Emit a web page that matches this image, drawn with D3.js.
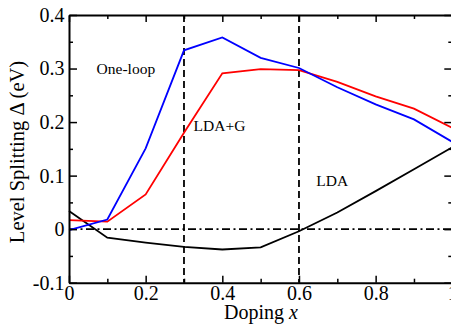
<!DOCTYPE html>
<html>
<head>
<meta charset="utf-8">
<script src="https://cdn.jsdelivr.net/npm/d3@7"></script>
<style>
  body { margin: 0; background: #fff; }
  svg { display: block; }
  text { font-family: "Liberation Serif", "Times New Roman", serif; fill: #000; }
</style>
</head>
<body>
<svg id="chart" width="451" height="325"></svg>
<script>
// ---- data ----
const doping = [0, 0.1, 0.2, 0.3, 0.4, 0.5, 0.6, 0.7, 0.8, 0.9, 1.0];
const oneLoop = [-0.002, 0.018, 0.151, 0.334, 0.358, 0.320, 0.301, 0.265, 0.233, 0.205, 0.163];
const ldaG   = [0.017, 0.014, 0.065, 0.180, 0.291, 0.299, 0.297, 0.275, 0.248, 0.225, 0.189];
const lda    = [0.034, -0.016, -0.025, -0.033, -0.038, -0.034, -0.004, 0.031, 0.071, 0.112, 0.153];
const xTicks = [0, 0.2, 0.4, 0.6, 0.8, 1.0];
const xTickLabels = ["0", "0.2", "0.4", "0.6", "0.8", "1"];
const xMinor = [0.1, 0.3, 0.5, 0.7, 0.9];
const yTicks = [-0.1, 0, 0.1, 0.2, 0.3, 0.4];
const yTickLabels = ["-0.1", "0", "0.1", "0.2", "0.3", "0.4"];
const yMinor = [-0.05, 0.05, 0.15, 0.25, 0.35];
const regionLines = [0.3, 0.6];
const labels = [
  {text: "One-loop", x: 0.072, y: 0.290},
  {text: "LDA+G", x: 0.325, y: 0.184},
  {text: "LDA", x: 0.645, y: 0.081}
];

// ---- layout ----
const L = 69, R = 452.3, T = 15, B = 282.7;
const x = d3.scaleLinear().domain([0, 1]).range([L, R]);
const y = d3.scaleLinear().domain([-0.1, 0.4]).range([B, T]);
const svg = d3.select("#chart");

// reference lines
svg.append("line")
  .attr("x1", x(0)).attr("x2", x(1)).attr("y1", y(0)).attr("y2", y(0))
  .attr("stroke", "#000").attr("stroke-width", 1.6)
  .attr("stroke-dasharray", "8,3.5,2,3.5");
svg.selectAll(".vline").data(regionLines).enter().append("line")
  .attr("x1", d => x(d)).attr("x2", d => x(d)).attr("y1", y(0.4)).attr("y2", y(-0.1))
  .attr("stroke", "#000").attr("stroke-width", 1.8)
  .attr("stroke-dasharray", "7,4");

// series
const line = d3.line().x((d, i) => x(doping[i])).y(d => y(d));
[[lda, "#000"], [ldaG, "#ff0000"], [oneLoop, "#0000ff"]].forEach(([vals, col]) => {
  svg.append("path").datum(vals).attr("d", line)
    .attr("fill", "none").attr("stroke", col).attr("stroke-width", 1.8)
    .attr("stroke-linejoin", "miter");
});

// axes
function styleAxis(g) {
  g.select(".domain").attr("stroke", "#000").attr("stroke-width", 2);
  g.selectAll(".tick line").attr("stroke", "#000").attr("stroke-width", 1.5);
}
// bottom
const gB = svg.append("g").attr("transform", `translate(0,${B})`)
  .call(d3.axisBottom(x).tickValues(xTicks).tickFormat((d, i) => xTickLabels[i]).tickSize(-7).tickSizeOuter(0).tickPadding(4));
styleAxis(gB);
gB.attr("font-family", null);
gB.selectAll("text").attr("font-size", 20).attr("dy", null).attr("y", 17);
svg.append("g").attr("transform", `translate(0,${B})`)
  .call(d3.axisBottom(x).tickValues(xMinor).tickFormat("").tickSize(-4).tickSizeOuter(0))
  .call(styleAxis).select(".domain").remove();
// top
svg.append("g").attr("transform", `translate(0,${T})`)
  .call(d3.axisTop(x).tickValues(xTicks).tickFormat("").tickSize(-7).tickSizeOuter(0))
  .call(styleAxis);
svg.append("g").attr("transform", `translate(0,${T})`)
  .call(d3.axisTop(x).tickValues(xMinor).tickFormat("").tickSize(-4).tickSizeOuter(0))
  .call(styleAxis).select(".domain").remove();
// left
const gL = svg.append("g").attr("transform", `translate(${L},0)`)
  .call(d3.axisLeft(y).tickValues(yTicks).tickFormat((d, i) => yTickLabels[i]).tickSize(-8).tickSizeOuter(0).tickPadding(4.5));
styleAxis(gL);
gL.attr("font-family", null);
gL.selectAll("text").attr("font-size", 20);
svg.append("g").attr("transform", `translate(${L},0)`)
  .call(d3.axisLeft(y).tickValues(yMinor).tickFormat("").tickSize(-4).tickSizeOuter(0))
  .call(styleAxis).select(".domain").remove();
// right
svg.append("g").attr("transform", `translate(${R},0)`)
  .call(d3.axisRight(y).tickValues(yTicks).tickFormat("").tickSize(-8).tickSizeOuter(0))
  .call(styleAxis);
svg.append("g").attr("transform", `translate(${R},0)`)
  .call(d3.axisRight(y).tickValues(yMinor).tickFormat("").tickSize(-4).tickSizeOuter(0))
  .call(styleAxis).select(".domain").remove();

// annotations
svg.selectAll(".lab").data(labels).enter().append("text")
  .attr("x", d => x(d.x)).attr("y", d => y(d.y))
  .attr("font-size", 15.5).text(d => d.text);

// axis titles
const xt = svg.append("text").attr("x", 261).attr("y", 318.5)
  .attr("text-anchor", "middle").attr("font-size", 20);
xt.append("tspan").text("Doping ");
xt.append("tspan").attr("font-style", "italic").text("x");

svg.append("text")
  .attr("transform", "translate(24,152) rotate(-90)")
  .attr("text-anchor", "middle").attr("font-size", 20.5)
  .text("Level Splitting Δ (eV)");
</script>
</body>
</html>
